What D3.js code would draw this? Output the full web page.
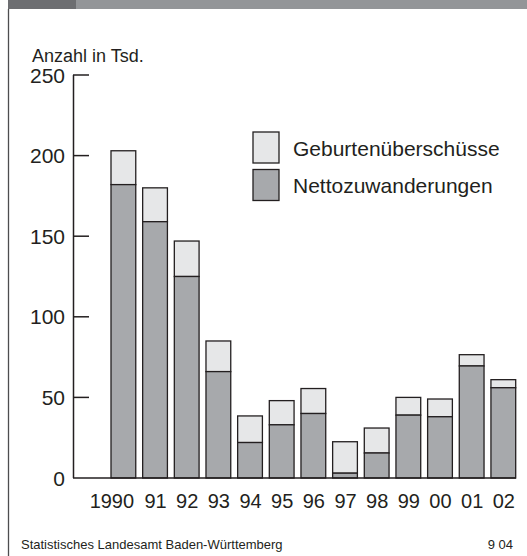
<!DOCTYPE html>
<html>
<head>
<meta charset="utf-8">
<script src="https://cdn.jsdelivr.net/npm/d3@7"></script>
<style>
  body { margin: 0; background: #fff; }
  svg { display: block; font-family: "Liberation Sans", Arial, sans-serif; }
</style>
</head>
<body>
<div id="chart"></div>
<script>
// Jahre (x-Achse)
var years = ["1990", "91", "92", "93", "94", "95", "96", "97", "98", "99", "00", "01", "02"];
// Nettozuwanderungen in Tsd.
var netto = [182, 159, 125, 66, 22, 33, 40, 3, 15.5, 39, 38, 69.5, 56];
// Geburtenueberschuesse in Tsd.
var geburten = [21, 21, 22, 19, 16.5, 15, 15.5, 19.5, 15.5, 11, 11, 7, 5];
var yTicks = [0, 50, 100, 150, 200, 250];
var seriesNames = ["Geburtenüberschüsse", "Nettozuwanderungen"];

var width = 527, height = 556;
var colNetto = "#a7a9ac", colGeb = "#e6e7e8", ink = "#231f20";

var svg = d3.select("#chart").append("svg")
  .attr("width", width)
  .attr("height", height);

// Kopfbalken + linker Rand
svg.append("rect").attr("x", 8).attr("y", 0).attr("width", width - 8).attr("height", 9).attr("fill", "#939598");
svg.append("rect").attr("x", 8).attr("y", 0).attr("width", 68).attr("height", 9).attr("fill", "#6d6e71");
svg.append("line").attr("x1", 8.5).attr("x2", 8.5).attr("y1", 9).attr("y2", height)
  .attr("stroke", "#4d4d4f").attr("stroke-width", 1.3);

var x = d3.scaleBand()
  .domain(years)
  .range([111, 515.7])
  .paddingInner(0.218)
  .paddingOuter(0);

var y = d3.scaleLinear()
  .domain([0, 250])
  .range([478, 75]);

// Einheit
svg.append("text").attr("x", 32).attr("y", 62)
  .attr("font-size", 18).attr("fill", ink)
  .text("Anzahl in Tsd.");

// y-Achse
var yAxis = svg.append("g");
yAxis.append("line")
  .attr("x1", 73.5).attr("x2", 73.5)
  .attr("y1", y(250)).attr("y2", y(0))
  .attr("stroke", ink).attr("stroke-width", 1.5);
yAxis.selectAll(".tick").data(yTicks.filter(function(d) { return d > 0; }))
  .enter().append("line")
  .attr("x1", 73).attr("x2", 89)
  .attr("y1", function(d) { return y(d); })
  .attr("y2", function(d) { return y(d); })
  .attr("stroke", ink).attr("stroke-width", 1.5);
yAxis.selectAll("text").data(yTicks)
  .enter().append("text")
  .attr("x", 65)
  .attr("y", function(d) { return y(d); })
  .attr("dy", "0.36em")
  .attr("text-anchor", "end")
  .attr("font-size", 21)
  .attr("fill", ink)
  .text(function(d) { return d; });

// Saeulen
var bars = svg.append("g").selectAll("g").data(years)
  .enter().append("g");

bars.append("rect")
  .attr("x", function(d) { return x(d); })
  .attr("y", function(d, i) { return y(netto[i] + geburten[i]); })
  .attr("width", x.bandwidth())
  .attr("height", function(d, i) { return y(netto[i]) - y(netto[i] + geburten[i]); })
  .attr("fill", colGeb)
  .attr("stroke", ink).attr("stroke-width", 1.3);

bars.append("rect")
  .attr("x", function(d) { return x(d); })
  .attr("y", function(d, i) { return y(netto[i]); })
  .attr("width", x.bandwidth())
  .attr("height", function(d, i) { return y(0) - y(netto[i]); })
  .attr("fill", colNetto)
  .attr("stroke", ink).attr("stroke-width", 1.3);

// Grundlinie
svg.append("line")
  .attr("x1", 73).attr("x2", 516)
  .attr("y1", y(0)).attr("y2", y(0))
  .attr("stroke", ink).attr("stroke-width", 1.5);

// x-Beschriftung
svg.append("g").selectAll("text").data(years)
  .enter().append("text")
  .attr("x", function(d) { return x(d) + x.bandwidth() / 2 + 0.5; })
  .attr("dx", function(d, i) { return i === 0 ? -12 : 0; })
  .attr("y", 508)
  .attr("text-anchor", "middle")
  .attr("font-size", 20)
  .attr("fill", ink)
  .text(function(d) { return d; });

// Legende
var legend = svg.append("g").selectAll("g").data(seriesNames)
  .enter().append("g")
  .attr("transform", function(d, i) { return "translate(253," + (132 + i * 37.5) + ")"; });
legend.append("rect")
  .attr("width", 26).attr("height", 31)
  .attr("fill", function(d, i) { return i === 0 ? colGeb : colNetto; })
  .attr("stroke", ink).attr("stroke-width", 1.3);
legend.append("text")
  .attr("x", 40).attr("y", 16)
  .attr("dy", "0.36em")
  .attr("font-size", 21)
  .attr("fill", ink)
  .text(function(d) { return d; });

// Fusszeile
svg.append("text").attr("x", 21).attr("y", 549)
  .attr("font-size", 13).attr("fill", ink)
  .text("Statistisches Landesamt Baden-Württemberg");
svg.append("text").attr("x", 513).attr("y", 549)
  .attr("text-anchor", "end")
  .attr("font-size", 13).attr("fill", ink)
  .text("9 04");
</script>
</body>
</html>
